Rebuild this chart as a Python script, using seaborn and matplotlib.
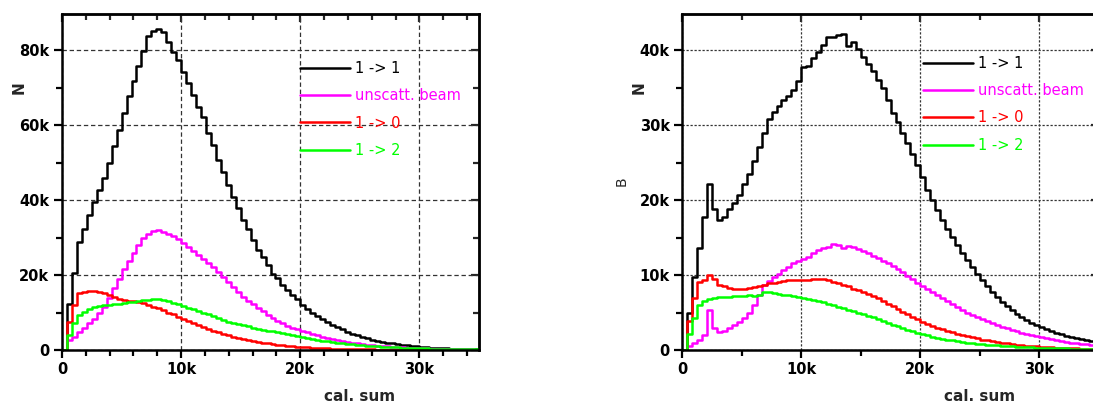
import numpy as np
import pandas as pd
import matplotlib
matplotlib.use("Agg")
import matplotlib.pyplot as plt
from matplotlib.lines import Line2D
from matplotlib.ticker import MultipleLocator
import seaborn as sns

# ---------------- data (counts per bin, in thousands) ----------------
N_BINS = 84
X_MAX = 35000
bin_edges = np.linspace(0, X_MAX, N_BINS + 1)

series_labels = ["1 -> 1", "unscatt. beam", "1 -> 0", "1 -> 2"]
series_colors = ["#000000", "#ff00ff", "#ff0000", "#00ff00"]

left_11 = [0, 12.3, 20.6, 28.9, 32.3, 36.0, 39.5, 42.8, 46.0, 49.8, 54.5,
           58.7, 63.3, 67.7, 71.7, 75.8, 79.8, 83.8, 85.2, 85.5, 84.7,
           82.1, 79.4, 77.3, 74.2, 71.1, 68.0, 64.7, 62.2, 58.0, 54.7,
           50.7, 47.6, 44.0, 40.9, 37.8, 34.7, 32.4, 29.3, 26.7, 24.9,
           22.7, 20.4, 19.1, 17.3, 16.0, 14.7, 13.6, 12.0, 11.0, 10.0,
           9.1, 8.3, 7.5, 6.8, 6.1, 5.5, 4.9, 4.4, 3.9, 3.5,
           3.1, 2.75, 2.45, 2.2, 1.95, 1.75, 1.55, 1.38, 1.22, 1.08,
           0.96, 0.85, 0.75, 0.66, 0.58, 0.51, 0.45, 0.40, 0.35, 0.31,
           0.27, 0.24, 0.21]
left_unscatt = [0, 2.8, 3.6, 4.9, 6.0, 7.3, 8.4, 9.8, 11.6, 14.0, 16.5,
                19.0, 21.6, 23.8, 26.0, 28.0, 29.8, 31.0, 31.7, 32.0, 31.6,
                31.0, 30.3, 29.5, 28.6, 27.6, 26.5, 25.4, 24.4, 23.3, 22.2,
                20.9, 19.6, 18.2, 16.9, 15.5, 14.2, 13.2, 12.2, 11.2, 10.3,
                9.4, 8.6, 7.8, 7.1, 6.5, 6.0, 5.5, 5.1, 4.7, 4.3,
                3.9, 3.6, 3.25, 2.95, 2.65, 2.4, 2.2, 2.0, 1.8, 1.62,
                1.46, 1.32, 1.2, 1.08, 0.97, 0.87, 0.78, 0.7, 0.63, 0.57,
                0.51, 0.46, 0.41, 0.37, 0.33, 0.3, 0.27, 0.24, 0.21, 0.19,
                0.17, 0.15, 0.13]
left_10 = [0, 7.6, 12.0, 15.3, 15.5, 15.8, 15.8, 15.5, 15.1, 14.6, 14.1,
           13.7, 13.4, 13.2, 13.0, 12.8, 12.5, 12.1, 11.6, 11.1, 10.6,
           10.0, 9.5, 8.9, 8.4, 7.8, 7.2, 6.6, 6.1, 5.6, 5.1,
           4.7, 4.3, 3.9, 3.6, 3.3, 3.0, 2.7, 2.45, 2.2, 2.0,
           1.8, 1.6, 1.42, 1.27, 1.13, 1.0, 0.9, 0.8, 0.71, 0.63,
           0.56, 0.5, 0.44, 0.39, 0.35, 0.31, 0.27, 0.24, 0.21, 0.19,
           0.17, 0.15, 0.13, 0.12, 0.1, 0.09, 0.08, 0.07, 0.06, 0.05,
           0.05, 0.04, 0.04, 0.03, 0.03, 0.03, 0.02, 0.02, 0.02, 0.02,
           0.01, 0.01, 0.01]
left_12 = [0, 4.0, 7.3, 9.3, 10.2, 11.0, 11.5, 11.8, 12.0, 12.1, 12.3,
           12.4, 12.6, 12.8, 12.9, 13.1, 13.3, 13.4, 13.5, 13.6, 13.4,
           13.0, 12.6, 12.2, 11.7, 11.3, 10.9, 10.4, 10.0, 9.5, 9.0,
           8.5, 8.0, 7.6, 7.2, 6.9, 6.6, 6.3, 6.0, 5.7, 5.45,
           5.2, 4.95, 4.7, 4.45, 4.2, 4.0, 3.8, 3.6, 3.3, 3.0,
           2.75, 2.5, 2.3, 2.1, 1.95, 1.8, 1.65, 1.52, 1.4, 1.3,
           1.2, 1.1, 1.0, 0.92, 0.84, 0.77, 0.7, 0.64, 0.59, 0.54,
           0.5, 0.46, 0.42, 0.38, 0.35, 0.32, 0.29, 0.27, 0.25, 0.23,
           0.21, 0.19, 0.17]

right_11 = [0, 5.0, 9.7, 13.6, 17.8, 22.1, 18.8, 17.4, 17.7, 18.8, 19.6,
            20.7, 22.2, 23.5, 25.2, 27.1, 28.9, 30.8, 31.8, 32.5, 33.3,
            33.9, 34.7, 35.9, 37.8, 37.9, 39.0, 39.8, 40.7, 41.7, 41.8,
            42.0, 42.1, 40.6, 41.1, 40.1, 39.1, 38.2, 37.2, 36.0, 34.9,
            33.3, 31.6, 30.4, 29.0, 27.6, 26.1, 24.7, 23.1, 21.4, 20.0,
            18.7, 17.3, 16.2, 15.1, 14.0, 12.9, 12.0, 11.1, 10.2, 9.3,
            8.5, 7.8, 7.1, 6.4, 5.9, 5.3, 4.8, 4.4, 4.0, 3.6,
            3.3, 3.05, 2.8, 2.55, 2.3, 2.1, 1.9, 1.7, 1.55, 1.42,
            1.3, 1.2, 1.1]
right_unscatt = [0, 0.6, 1.0, 1.4, 2.0, 5.3, 2.9, 2.4, 2.6, 2.9, 3.4,
                 3.8, 4.3, 5.0, 6.0, 7.3, 8.7, 9.2, 9.8, 10.2, 10.7,
                 11.1, 11.6, 11.9, 12.1, 12.4, 12.9, 13.3, 13.6, 13.8, 14.1,
                 14.0, 13.6, 13.9, 13.8, 13.5, 13.2, 12.9, 12.6, 12.3, 11.9,
                 11.6, 11.2, 10.8, 10.4, 9.9, 9.5, 9.0, 8.6, 8.1, 7.7,
                 7.3, 6.9, 6.5, 6.1, 5.7, 5.4, 5.0, 4.7, 4.4, 4.1,
                 3.85, 3.6, 3.35, 3.1, 2.9, 2.7, 2.5, 2.3, 2.15, 2.0,
                 1.85, 1.7, 1.55, 1.42, 1.3, 1.2, 1.1, 1.0, 0.92, 0.85,
                 0.78, 0.72, 0.66]
right_10 = [0, 3.9, 7.0, 9.1, 9.4, 10.0, 9.5, 8.7, 8.5, 8.3, 8.2,
            8.1, 8.1, 8.3, 8.4, 8.6, 8.7, 8.9, 9.0, 9.1, 9.2,
            9.3, 9.3, 9.35, 9.4, 9.4, 9.45, 9.5, 9.5, 9.3, 9.1,
            8.9, 8.7, 8.5, 8.2, 8.0, 7.8, 7.5, 7.2, 6.9, 6.6,
            6.2, 5.9, 5.5, 5.1, 4.75, 4.4, 4.1, 3.8, 3.5, 3.2,
            3.0, 2.8, 2.6, 2.4, 2.2, 2.0, 1.85, 1.7, 1.55, 1.4,
            1.27, 1.15, 1.05, 0.96, 0.88, 0.8, 0.73, 0.67, 0.6, 0.54,
            0.49, 0.44, 0.4, 0.36, 0.33, 0.3, 0.27, 0.24, 0.21, 0.19,
            0.17, 0.15, 0.13]
right_12 = [0, 2.2, 4.3, 6.0, 6.6, 6.8, 7.0, 7.05, 7.1, 7.1, 7.15,
            7.2, 7.2, 7.3, 7.25, 7.4, 7.7, 7.8, 7.6, 7.5, 7.4,
            7.3, 7.2, 7.05, 6.9, 6.8, 6.65, 6.5, 6.35, 6.2, 6.0,
            5.8, 5.6, 5.4, 5.2, 5.0, 4.8, 4.6, 4.4, 4.15, 3.9,
            3.65, 3.4, 3.15, 2.9, 2.7, 2.5, 2.3, 2.1, 1.95, 1.8,
            1.65, 1.5, 1.38, 1.27, 1.17, 1.08, 1.0, 0.92, 0.85, 0.78,
            0.72, 0.66, 0.61, 0.56, 0.52, 0.48, 0.44, 0.41, 0.38, 0.35,
            0.33, 0.31, 0.29, 0.27, 0.25, 0.23, 0.21, 0.2, 0.19, 0.18,
            0.17, 0.16, 0.15]

x_ticks = [0, 10000, 20000, 30000]
x_tick_labels = ["0", "10k", "20k", "30k"]
left_y_ticks = [0, 20000, 40000, 60000, 80000]
left_y_tick_labels = ["0", "20k", "40k", "60k", "80k"]
right_y_ticks = [0, 10000, 20000, 30000, 40000]
right_y_tick_labels = ["0", "10k", "20k", "30k", "40k"]

# ---------------- style ----------------
sns.set_style("white")
plt.rcParams["font.family"] = ["DejaVu Sans"]

W, H = 1093, 403
fig = plt.figure(figsize=(W / 100, H / 100), dpi=100)

def px_axes(left, top, right, bottom):
    return fig.add_axes([left / W, 1 - bottom / H, (right - left) / W, (bottom - top) / H])

def draw_panel(ax, data, ymax, yticks, ylabels, xminor, yminor, gridls, legend_anchor):
    for vals, lab, col in zip(data, series_labels, series_colors):
        counts = np.asarray(vals, float) * 1000
        df = pd.DataFrame({"cal_sum": bin_edges,
                           "count": np.append(counts, counts[-1])})
        sns.lineplot(data=df, x="cal_sum", y="count", estimator=None,
                     drawstyle="steps-post", color=col, linewidth=1.8,
                     ax=ax, legend=False)
    ax.set_xlim(0, X_MAX)
    ax.set_ylim(0, ymax)
    ax.set_xticks(x_ticks)
    ax.set_xticklabels(x_tick_labels)
    ax.set_yticks(yticks)
    ax.set_yticklabels(ylabels)
    ax.xaxis.set_minor_locator(MultipleLocator(xminor))
    ax.yaxis.set_minor_locator(MultipleLocator(yminor))
    ax.tick_params(which="both", direction="out", width=1.6, colors="black",
                   labelsize=10.5, top=False, right=False, bottom=True, left=True)
    ax.tick_params(which="major", length=6, pad=3)
    ax.tick_params(which="minor", length=4)
    for t in ax.get_xticklabels() + ax.get_yticklabels():
        t.set_fontweight("bold")
    for s in ax.spines.values():
        s.set_linewidth(1.8)
        s.set_color("black")
        s.set_visible(True)
    ax.grid(True, which="major", linestyle=gridls, color="#333333", linewidth=0.9)
    ax.set_axisbelow(True)
    # inward ticks on top and right
    top = ax.secondary_xaxis("top")
    top.set_xticks(x_ticks)
    top.xaxis.set_minor_locator(MultipleLocator(xminor))
    top.tick_params(which="both", direction="in", width=1.6, labeltop=False)
    top.tick_params(which="major", length=6)
    top.tick_params(which="minor", length=4)
    top.spines["top"].set_linewidth(1.8)
    right = ax.secondary_yaxis("right")
    right.set_yticks(yticks)
    right.yaxis.set_minor_locator(MultipleLocator(yminor))
    right.tick_params(which="both", direction="in", width=1.6, labelright=False)
    right.tick_params(which="major", length=6)
    right.tick_params(which="minor", length=4)
    right.spines["right"].set_linewidth(1.8)

    ax.set_xlabel("cal. sum", fontsize=11, fontweight="bold")
    ax.xaxis.set_label_coords(25000 / X_MAX, -0.115)
    ax.set_ylabel("N", fontsize=11, fontweight="bold")
    ax.yaxis.set_label_coords(-0.085, 0.78)

    handles = [Line2D([], [], color=c, lw=1.8) for c in series_colors]
    leg = ax.legend(handles, series_labels, loc="upper left",
                    bbox_to_anchor=legend_anchor, frameon=False,
                    fontsize=10.5, handlelength=3.4, handletextpad=0.35,
                    labelspacing=0.84, borderpad=0, borderaxespad=0)
    for txt, c in zip(leg.get_texts(), series_colors):
        txt.set_color(c)
    return ax

axL = px_axes(62, 14, 479, 350)
draw_panel(axL, [left_11, left_unscatt, left_10, left_12], 89600,
           left_y_ticks, left_y_tick_labels, 2000, 10000, (0, (3.5, 2.2)),
           (0.571, 0.860))

axR = px_axes(682.3, 14, 682.3 + 416.5, 350)
draw_panel(axR, [right_11, right_unscatt, right_10, right_12], 44800,
           right_y_ticks, right_y_tick_labels, 5000, 5000, (0, (1.8, 1.4)),
           (0.578, 0.875))
axR.text(-0.145, 0.503, "B", transform=axR.transAxes, rotation=90,
         ha="center", va="center", fontsize=10)

fig.savefig("out.png", dpi=100)
